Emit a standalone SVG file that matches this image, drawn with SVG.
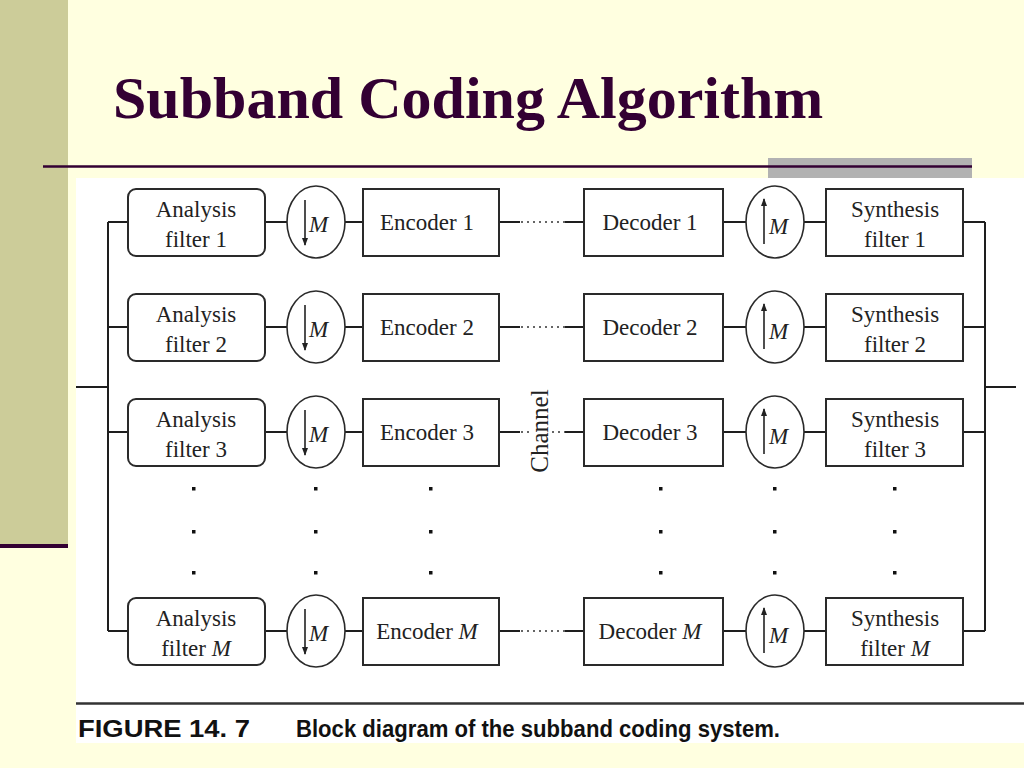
<svg xmlns="http://www.w3.org/2000/svg" width="1024" height="768" viewBox="0 0 1024 768">
<defs>
<style>
.t{font-family:"Liberation Serif","Times New Roman",serif;font-size:23px;fill:#222;text-anchor:middle}
.m{font-family:"Liberation Serif","Times New Roman",serif;font-size:23px;font-style:italic;fill:#222}
.bx{fill:#fff;stroke:#2a2a2a;stroke-width:2}
.c{fill:#fff;stroke:#2a2a2a;stroke-width:1.6}
.w{fill:none;stroke:#1e1e1e;stroke-width:2}
.d{fill:none;stroke:#333;stroke-width:1.6;stroke-dasharray:2 4}
.ar{stroke:#222;stroke-width:1.6}
.dot{fill:#111}
.cap{font-family:"Liberation Sans",Arial,sans-serif;font-weight:bold;font-size:24px;fill:#111}
</style>
<marker id="ah" viewBox="0 0 8 6" refX="7" refY="3" markerWidth="8" markerHeight="6" markerUnits="userSpaceOnUse" orient="auto">
<path d="M0,0 L8,3 L0,6 Z" fill="#222"/>
</marker>
</defs>
<rect x="0" y="0" width="1024" height="768" fill="#FFFFE0"/>
<rect x="0" y="0" width="68" height="545" fill="#CCCC99"/>
<rect x="0" y="544" width="68" height="4" fill="#330033"/>
<text x="113" y="118" font-family="Liberation Serif,'Times New Roman',serif" font-weight="bold" font-size="60" fill="#330033">Subband Coding Algorithm</text>
<rect x="768" y="158" width="204" height="20" fill="#B2B2B2"/>
<line x1="43" y1="166.5" x2="972" y2="166.5" stroke="#330033" stroke-width="2.5"/>
<rect x="76" y="178" width="948" height="565" fill="#ffffff"/>
<line x1="76" y1="703.5" x2="1024" y2="703.5" stroke="#333" stroke-width="2.5"/>
<text class="cap" x="78" y="737" textLength="172" lengthAdjust="spacingAndGlyphs">FIGURE 14. 7</text>
<text class="cap" x="296" y="737" textLength="484" lengthAdjust="spacingAndGlyphs">Block diagram of the subband coding system.</text>

<g id="connectors">
<path class="w" d="M108,222 V631 M76,387 H108 M985,222 V631 M985,387 H1016"/>
<path class="w" d="M108,222 H128 M265,222 H287 M345,222 H363 M499,222 H520 M565,222 H584 M723,222 H746 M804,222 H826 M963,222 H985"/>
<path class="w" d="M108,327 H128 M265,327 H287 M345,327 H363 M499,327 H520 M565,327 H584 M723,327 H746 M804,327 H826 M963,327 H985"/>
<path class="w" d="M108,432 H128 M265,432 H287 M345,432 H363 M499,432 H520 M565,432 H584 M723,432 H746 M804,432 H826 M963,432 H985"/>
<path class="w" d="M108,631 H128 M265,631 H287 M345,631 H363 M499,631 H520 M565,631 H584 M723,631 H746 M804,631 H826 M963,631 H985"/>
<path class="d" d="M521,222 H565 M521,327 H565 M521,432 H530 M552,432 H565 M521,631 H565"/>
</g>
<text id="channel" class="t" transform="translate(548,431) rotate(-90)" style="font-size:25px">Channel</text>

<g id="analysis1"><rect class="bx" x="128" y="189" width="137" height="67" rx="8"/><text class="t" x="196" y="217">Analysis</text><text class="t" x="196" y="247">filter 1</text></g>
<g id="analysis2"><rect class="bx" x="128" y="294" width="137" height="67" rx="8"/><text class="t" x="196" y="322">Analysis</text><text class="t" x="196" y="352">filter 2</text></g>
<g id="analysis3"><rect class="bx" x="128" y="399" width="137" height="67" rx="8"/><text class="t" x="196" y="427">Analysis</text><text class="t" x="196" y="457">filter 3</text></g>
<g id="analysisM"><rect class="bx" x="128" y="598" width="137" height="67" rx="8"/><text class="t" x="196" y="626">Analysis</text><text class="t" x="196" y="656">filter <tspan font-style="italic">M</tspan></text></g>

<g id="down1"><ellipse class="c" cx="316" cy="222" rx="29" ry="36"/><line class="ar" x1="305" y1="200" x2="305" y2="245" marker-end="url(#ah)"/><text class="m" x="309" y="232">M</text></g>
<g id="down2"><ellipse class="c" cx="316" cy="327" rx="29" ry="36"/><line class="ar" x1="305" y1="305" x2="305" y2="350" marker-end="url(#ah)"/><text class="m" x="309" y="337">M</text></g>
<g id="down3"><ellipse class="c" cx="316" cy="432" rx="29" ry="36"/><line class="ar" x1="305" y1="410" x2="305" y2="455" marker-end="url(#ah)"/><text class="m" x="309" y="442">M</text></g>
<g id="downM"><ellipse class="c" cx="316" cy="631" rx="29" ry="36"/><line class="ar" x1="305" y1="609" x2="305" y2="654" marker-end="url(#ah)"/><text class="m" x="309" y="641">M</text></g>

<g id="encoder1"><rect class="bx" x="363" y="189" width="136" height="67"/><text class="t" x="427" y="230">Encoder 1</text></g>
<g id="encoder2"><rect class="bx" x="363" y="294" width="136" height="67"/><text class="t" x="427" y="335">Encoder 2</text></g>
<g id="encoder3"><rect class="bx" x="363" y="399" width="136" height="67"/><text class="t" x="427" y="440">Encoder 3</text></g>
<g id="encoderM"><rect class="bx" x="363" y="598" width="136" height="67"/><text class="t" x="427" y="639">Encoder <tspan font-style="italic">M</tspan></text></g>

<g id="decoder1"><rect class="bx" x="584" y="189" width="139" height="67"/><text class="t" x="650" y="230">Decoder 1</text></g>
<g id="decoder2"><rect class="bx" x="584" y="294" width="139" height="67"/><text class="t" x="650" y="335">Decoder 2</text></g>
<g id="decoder3"><rect class="bx" x="584" y="399" width="139" height="67"/><text class="t" x="650" y="440">Decoder 3</text></g>
<g id="decoderM"><rect class="bx" x="584" y="598" width="139" height="67"/><text class="t" x="650" y="639">Decoder <tspan font-style="italic">M</tspan></text></g>

<g id="up1"><ellipse class="c" cx="775" cy="222" rx="29" ry="36"/><line class="ar" x1="764" y1="244" x2="764" y2="199" marker-end="url(#ah)"/><text class="m" x="769" y="234">M</text></g>
<g id="up2"><ellipse class="c" cx="775" cy="327" rx="29" ry="36"/><line class="ar" x1="764" y1="349" x2="764" y2="304" marker-end="url(#ah)"/><text class="m" x="769" y="339">M</text></g>
<g id="up3"><ellipse class="c" cx="775" cy="432" rx="29" ry="36"/><line class="ar" x1="764" y1="454" x2="764" y2="409" marker-end="url(#ah)"/><text class="m" x="769" y="444">M</text></g>
<g id="upM"><ellipse class="c" cx="775" cy="631" rx="29" ry="36"/><line class="ar" x1="764" y1="653" x2="764" y2="608" marker-end="url(#ah)"/><text class="m" x="769" y="643">M</text></g>

<g id="synthesis1"><rect class="bx" x="826" y="189" width="137" height="67"/><text class="t" x="895" y="217">Synthesis</text><text class="t" x="895" y="247">filter 1</text></g>
<g id="synthesis2"><rect class="bx" x="826" y="294" width="137" height="67"/><text class="t" x="895" y="322">Synthesis</text><text class="t" x="895" y="352">filter 2</text></g>
<g id="synthesis3"><rect class="bx" x="826" y="399" width="137" height="67"/><text class="t" x="895" y="427">Synthesis</text><text class="t" x="895" y="457">filter 3</text></g>
<g id="synthesisM"><rect class="bx" x="826" y="598" width="137" height="67"/><text class="t" x="895" y="626">Synthesis</text><text class="t" x="895" y="656">filter <tspan font-style="italic">M</tspan></text></g>

<g id="ellipsis-dots">
<rect class="dot" x="192" y="487" width="3.5" height="3.5"/><rect class="dot" x="192" y="530" width="3.5" height="3.5"/><rect class="dot" x="192" y="571" width="3.5" height="3.5"/>
<rect class="dot" x="314" y="487" width="3.5" height="3.5"/><rect class="dot" x="314" y="530" width="3.5" height="3.5"/><rect class="dot" x="314" y="571" width="3.5" height="3.5"/>
<rect class="dot" x="429" y="487" width="3.5" height="3.5"/><rect class="dot" x="429" y="530" width="3.5" height="3.5"/><rect class="dot" x="429" y="571" width="3.5" height="3.5"/>
<rect class="dot" x="659" y="487" width="3.5" height="3.5"/><rect class="dot" x="659" y="530" width="3.5" height="3.5"/><rect class="dot" x="659" y="571" width="3.5" height="3.5"/>
<rect class="dot" x="773" y="487" width="3.5" height="3.5"/><rect class="dot" x="773" y="530" width="3.5" height="3.5"/><rect class="dot" x="773" y="571" width="3.5" height="3.5"/>
<rect class="dot" x="893" y="487" width="3.5" height="3.5"/><rect class="dot" x="893" y="530" width="3.5" height="3.5"/><rect class="dot" x="893" y="571" width="3.5" height="3.5"/>
</g>
</svg>
